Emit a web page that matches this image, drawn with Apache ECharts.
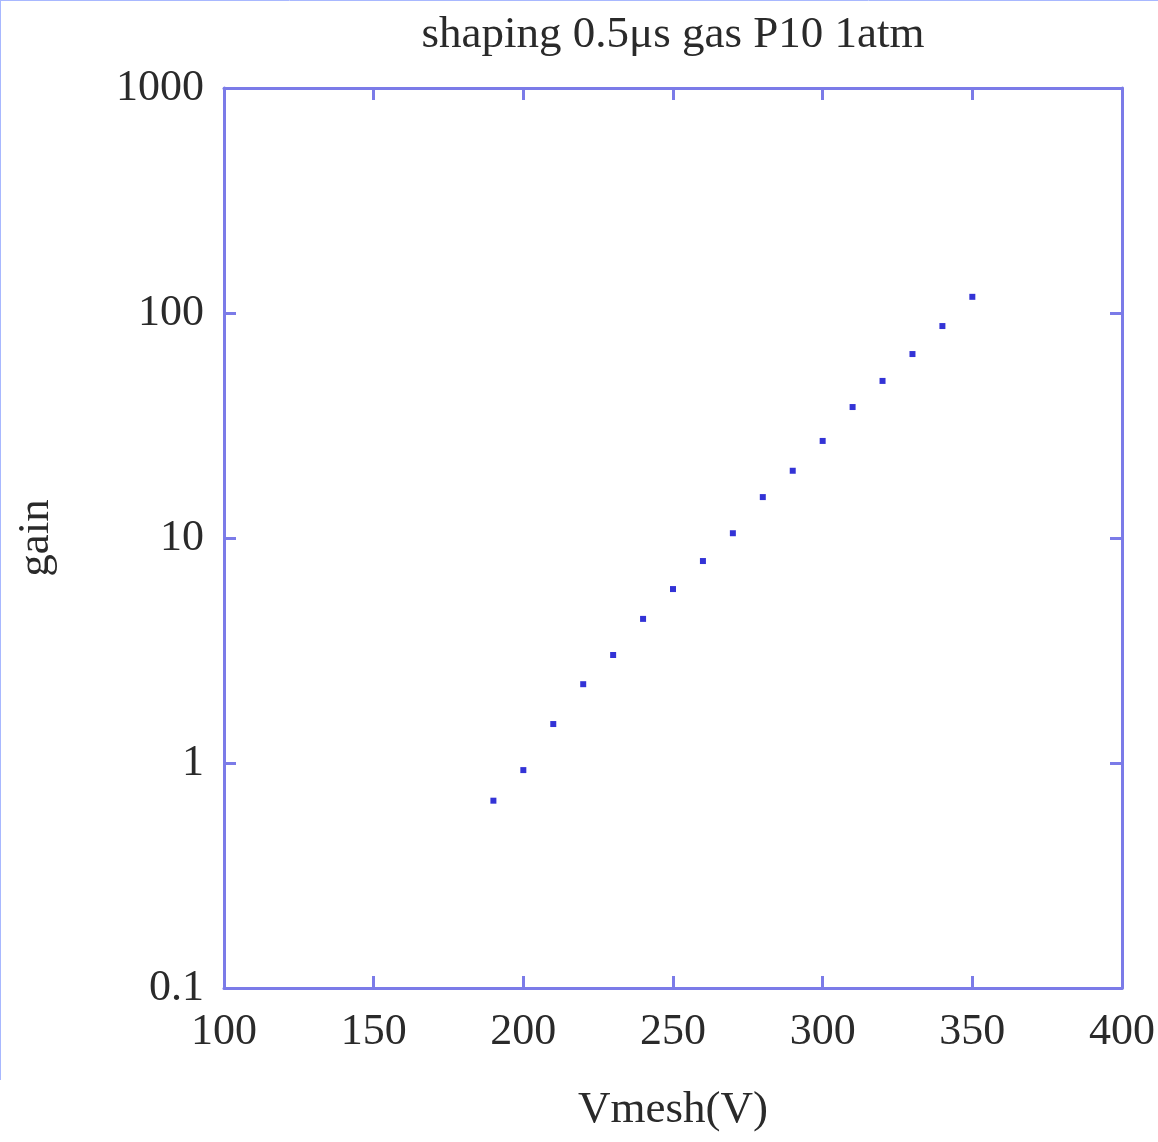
<!DOCTYPE html>
<html>
<head>
<meta charset="utf-8">
<script src="https://cdn.jsdelivr.net/npm/echarts@6/dist/echarts.min.js"></script>
<style>
html,body{margin:0;padding:0;background:#fff;}
#chart{width:1158px;height:1142px;}
</style>
</head>
<body>
<div id="chart"></div>
<script>
const titleText = 'shaping 0.5μs gas P10 1atm';
const xName = 'Vmesh(V)';
const yName = 'gain';
const vmesh = [190, 200, 210, 220, 230, 240, 250, 260, 270, 280, 290, 300, 310, 320, 330, 340, 350];
const gain = [0.68, 0.93, 1.49, 2.24, 3.02, 4.37, 5.93, 7.9, 10.5, 15.2, 19.9, 27, 38.2, 49.9, 65.7, 87.5, 118];
const yTickLabels = {'0.1':'0.1','1':'1','10':'10','100':'100','1000':'1000'};

const axisColor = '#7b7be8';
const fontFam = '"Liberation Serif", "DejaVu Serif", serif';
const txtColor = '#2a2a2a';

const chart = echarts.init(document.getElementById('chart'));
const data = vmesh.map((v, i) => [v, gain[i]]);

chart.setOption({
  animation: false,
  backgroundColor: '#fff',
  title: {
    text: titleText,
    left: 668, top: 8,
    textAlign: 'center',
    textStyle: {fontFamily: fontFam, fontSize: 45, fontWeight: 'normal', color: txtColor}
  },
  grid: {left: 224, right: 32, top: 88, bottom: 154, containLabel: false},
  xAxis: [{
    type: 'value', min: 100, max: 400, interval: 50,
    name: xName, nameLocation: 'middle', nameGap: 100,
    nameTextStyle: {fontFamily: fontFam, fontSize: 45, color: txtColor},
    axisLine: {show: true, lineStyle: {color: axisColor, width: 3}},
    axisTick: {show: true, inside: true, length: 12, lineStyle: {color: axisColor, width: 3}},
    axisLabel: {fontFamily: fontFam, fontSize: 44, color: txtColor, margin: 22},
    splitLine: {show: false}
  }, {
    type: 'value', min: 100, max: 400, interval: 50, position: 'top',
    axisLine: {show: true, lineStyle: {color: axisColor, width: 3}},
    axisTick: {show: true, inside: true, length: 12, lineStyle: {color: axisColor, width: 3}},
    axisLabel: {show: false},
    splitLine: {show: false}
  }],
  yAxis: [{
    type: 'log', logBase: 10, min: 0.1, max: 1000,
    name: yName, nameLocation: 'middle', nameGap: 165,
    nameTextStyle: {fontFamily: fontFam, fontSize: 45, color: txtColor},
    axisLine: {show: true, lineStyle: {color: axisColor, width: 3}},
    axisTick: {show: true, inside: true, length: 12, lineStyle: {color: axisColor, width: 3}},
    axisLabel: {fontFamily: fontFam, fontSize: 44, color: txtColor, margin: 20,
      formatter: v => yTickLabels[String(+v.toPrecision(3))] || String(v)},
    splitLine: {show: false}
  }, {
    type: 'log', logBase: 10, min: 0.1, max: 1000, position: 'right',
    axisLine: {show: true, lineStyle: {color: axisColor, width: 3}},
    axisTick: {show: true, inside: true, length: 12, lineStyle: {color: axisColor, width: 3}},
    axisLabel: {show: false},
    splitLine: {show: false}
  }],
  graphic: [
    {type: 'line', shape: {x1: 0.5, y1: 0, x2: 0.5, y2: 1080}, style: {stroke: '#a8b8ff', lineWidth: 1}},
    {type: 'line', shape: {x1: 0, y1: 0.5, x2: 1158, y2: 0.5}, style: {stroke: '#a8b8ff', lineWidth: 1}}
  ],
  series: [{
    type: 'scatter',
    xAxisIndex: 0, yAxisIndex: 0,
    symbol: 'rect', symbolSize: 6,
    itemStyle: {color: '#0000cc'},
    data: data
  }]
});
</script>
</body>
</html>
